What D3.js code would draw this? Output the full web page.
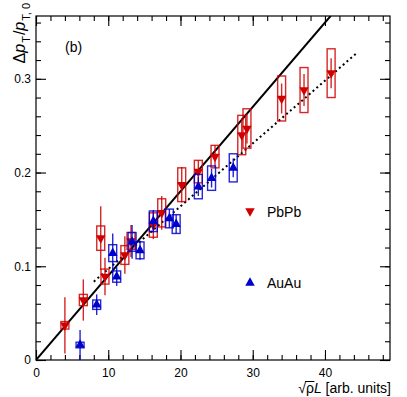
<!DOCTYPE html>
<html><head><meta charset="utf-8">
<script src="https://cdn.jsdelivr.net/npm/d3@7"></script>
<style>body{margin:0;background:#fff}svg{display:block}text{font-family:"Liberation Sans",Arial,sans-serif}</style>
</head><body><svg id="c" width="407" height="397"></svg>
<script>
// PbPb (red, down triangles)
const pbX    = [4.0, 6.55, 8.96, 9.55, 12.3, 13.15, 16.24, 17.4, 20.17, 22.47, 24.78, 28.48, 29.2, 34.0, 37.1, 40.85];
const pbY    = [0.037, 0.064, 0.130, 0.089, 0.112, 0.127, 0.144, 0.157, 0.187, 0.201, 0.217, 0.240, 0.247, 0.279, 0.288, 0.306];
const pbStat = [0.030, 0.022, 0.034, 0.020, 0.020, 0.017, 0.015, 0.018, 0.019, 0.012, 0.012, 0.018, 0.016, 0.016, 0.017, 0.016];
const pbSys  = [0.004, 0.006, 0.013, 0.008, 0.010, 0.009, 0.013, 0.015, 0.018, 0.012, 0.012, 0.021, 0.021, 0.024, 0.024, 0.026];
// AuAu (blue, up triangles)
const auX    = [6.1, 8.4, 10.62, 11.17, 13.3, 14.4, 16.24, 18.46, 19.4, 22.47, 24.3, 27.3];
const auY    = [0.016, 0.059, 0.114, 0.089, 0.126, 0.117, 0.148, 0.151, 0.145, 0.185, 0.194, 0.205];
const auStat = [0.016, 0.011, 0.021, 0.010, 0.018, 0.010, 0.012, 0.010, 0.010, 0.010, 0.010, 0.010];
const auSys  = [0.003, 0.005, 0.009, 0.006, 0.010, 0.009, 0.011, 0.010, 0.010, 0.013, 0.013, 0.015];
// reference lines
const solidLine  = {x: [0, 40.8], slope: 0.009, intercept: 0};
const dottedLine = {x: [8.0, 44.5], slope: 0.0067, intercept: 0.030};
// ticks
const xMajor = [0, 10, 20, 30, 40];
const xMinor = d3.range(0, 49, 2);
const yMajor = [0, 0.1, 0.2, 0.3];
const yMinor = d3.range(0, 0.367, 0.02);
const legendLabels = ["PbPb", "AuAu"];

const RED = "#d00000", BLUE = "#0000cc";
const svg = d3.select("#c");
const x = d3.scaleLinear().domain([0, 49]).range([36, 390]);
const y = d3.scaleLinear().domain([0, 0.367]).range([360, 16]);

// axes
function axis(gen, tr, vals, size, fmt, pad) {
  const g = svg.append("g").attr("transform", tr)
    .call(gen.tickValues(vals).tickSize(size).tickPadding(pad).tickFormat(fmt));
  g.select(".domain").remove();
  g.selectAll("line").attr("stroke", "#000").attr("stroke-width", 1.1);
  g.selectAll("text").attr("font-size", 12).attr("fill", "#000").attr("font-family", '"Liberation Sans",Arial,sans-serif');
  return g;
}
const yf = d => d === 0 ? "0" : d.toFixed(1);
axis(d3.axisBottom(x), "translate(0,360)", xMajor, -10, d3.format("d"), 8);
axis(d3.axisBottom(x), "translate(0,360)", xMinor, -5, () => "", 8);
axis(d3.axisTop(x), "translate(0,16)", xMajor, -10, () => "", 3);
axis(d3.axisTop(x), "translate(0,16)", xMinor, -5, () => "", 3);
axis(d3.axisLeft(y), "translate(36,0)", yMajor, -10, yf, 5);
axis(d3.axisLeft(y), "translate(36,0)", yMinor, -5, () => "", 5);
axis(d3.axisRight(y), "translate(390,0)", yMajor, -10, () => "", 3);
axis(d3.axisRight(y), "translate(390,0)", yMinor, -5, () => "", 3);
svg.append("rect").attr("x", 36).attr("y", 16).attr("width", 354).attr("height", 344)
  .attr("fill", "none").attr("stroke", "#000").attr("stroke-width", 1.2);

// lines
svg.append("clipPath").attr("id", "cp").append("rect").attr("x", 36).attr("y", 16).attr("width", 354).attr("height", 344);
function refLine(L, dash) {
  svg.append("line").attr("clip-path", "url(#cp)")
    .attr("x1", x(L.x[0])).attr("y1", y(L.intercept + L.slope * L.x[0]))
    .attr("x2", x(L.x[1])).attr("y2", y(L.intercept + L.slope * L.x[1]))
    .attr("stroke", "#000").attr("stroke-width", 2).attr("stroke-dasharray", dash);
}
refLine(solidLine, null);
refLine(dottedLine, "2,3");

// markers
function tri(cx, cy, down, w = 9.5, h = 8.5) {
  const s = down ? 1 : -1;
  return `M${cx - w / 2},${cy - s * h / 3}L${cx + w / 2},${cy - s * h / 3}L${cx},${cy + s * 2 * h / 3}Z`;
}
function series(X, Y, S, SY, col, down) {
  const g = svg.append("g");
  const idx = d3.range(X.length);
  const hw = 0.55;
  g.selectAll("rect").data(idx).join("rect")
    .attr("x", i => x(X[i] - hw)).attr("width", i => x(X[i] + hw) - x(X[i] - hw))
    .attr("y", i => y(Y[i] + SY[i])).attr("height", i => y(Y[i] - SY[i]) - y(Y[i] + SY[i]))
    .attr("fill", "none").attr("stroke", col).attr("stroke-width", 1.4).attr("opacity", 0.85);
  g.selectAll("line.e").data(idx).join("line").attr("class", "e")
    .attr("x1", i => x(X[i])).attr("x2", i => x(X[i]))
    .attr("y1", i => y(Math.max(0, Y[i] - S[i]))).attr("y2", i => y(Y[i] + S[i]))
    .attr("stroke", col).attr("stroke-width", 1.4).attr("opacity", 0.85);
  g.selectAll("path").data(idx).join("path")
    .attr("d", i => tri(x(X[i]), y(Y[i]), down)).attr("fill", col);
}
series(pbX, pbY, pbStat, pbSys, RED, true);
series(auX, auY, auStat, auSys, BLUE, false);

// legend
svg.append("path").attr("d", tri(250, 211, true)).attr("fill", RED);
svg.append("path").attr("d", tri(250, 283, false)).attr("fill", BLUE);
svg.append("text").attr("x", 267).attr("y", 216.5).attr("font-size", 14).text(legendLabels[0]);
svg.append("text").attr("x", 267).attr("y", 288).attr("font-size", 14).text(legendLabels[1]);

// panel label
svg.append("text").attr("x", 65).attr("y", 52).attr("font-size", 14).text("(b)");

// y title
const yl = svg.append("text").attr("transform", "translate(25,3) rotate(-90)")
  .attr("text-anchor", "end").attr("font-size", 16);
yl.append("tspan").text("Δ");
yl.append("tspan").attr("font-style", "italic").text("p");
yl.append("tspan").attr("font-size", 11).attr("dy", 5).attr("dx", 1).text("T");
yl.append("tspan").attr("dy", -5).attr("dx", 1).text("/");
yl.append("tspan").attr("font-style", "italic").text("p");
yl.append("tspan").attr("font-size", 11).attr("dy", 5).attr("dx", 1).text("T, 0");

// x title
const xl = svg.append("text").attr("x", 391).attr("y", 393).attr("text-anchor", "end").attr("font-size", 14);
xl.append("tspan").text("√");
xl.append("tspan").text("ρ");
xl.append("tspan").attr("font-style", "italic").text("L");
xl.append("tspan").text(" [arb. units]");
const node = xl.node();
const p0 = node.getStartPositionOfChar(1), e0 = node.getEndPositionOfChar(1);
svg.append("line").attr("x1", p0.x - 1).attr("x2", e0.x + 0.5).attr("y1", 381.5).attr("y2", 381.5)
  .attr("stroke", "#000").attr("stroke-width", 1);
</script></body></html>
